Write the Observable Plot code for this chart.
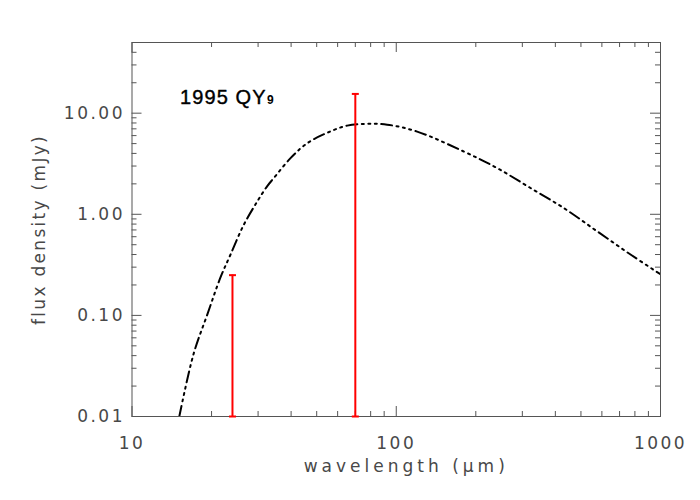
<!DOCTYPE html>
<html><head><meta charset="utf-8">
<script src="https://cdn.jsdelivr.net/npm/d3@7"></script>
<script src="https://cdn.jsdelivr.net/npm/@observablehq/plot@0.6"></script>
<style>body{margin:0;background:#fff}</style>
</head><body><div id="chart"></div>
<script>
// model curve (wavelength in µm, flux density in mJy)
const wavelength = [15.1, 17.1, 19.3, 21.6, 23.6, 26.5, 29.8, 32.5, 34.4, 39.8, 46.0, 54.8, 65.2, 77.6, 92.4, 120, 180, 241, 322, 431, 575, 770, 1000];
const flux       = [0.01, 0.0415, 0.103, 0.236, 0.40, 0.79, 1.34, 1.9, 2.28, 3.59, 5.04, 6.4, 7.53, 7.85, 7.7, 6.57, 4.18, 2.86, 1.82, 1.15, 0.68, 0.40, 0.255];
// upper limits (error bars)
const limWave = [24, 70];
const limLow  = [0.01, 0.01];
const limHigh = [0.25, 15.5];
// ticks
const xMajor = [10, 100, 1000];
const xMinor = [20,30,40,50,60,70,80,90,200,300,400,500,600,700,800,900];
const yMajor = [0.01, 0.1, 1, 10];
const yMinor = [0.02,0.03,0.04,0.05,0.06,0.07,0.08,0.09,0.2,0.3,0.4,0.5,0.6,0.7,0.8,0.9,2,3,4,5,6,7,8,9,20,30,40];
const objectName = "1995 QY";
const objectSub = "9";
const xLabel = "wavelength (μm)";
const yLabel = "flux density (mJy)";

const curve = wavelength.map((w, i) => ({w, f: flux[i]}));
const limits = limWave.map((w, i) => ({w, lo: limLow[i], hi: limHigh[i]}));

const W = 700, H = 500, mL = 131.5, mR = 40, mT = 42, mB = 84;
const iw = W - mL - mR, ih = H - mT - mB;
const axisColor = "#555";
const capSymbol = {draw(ctx) { ctx.moveTo(-3.5, 0); ctx.lineTo(3.5, 0); }};

const plot = Plot.plot({
  width: W, height: H,
  marginLeft: mL, marginRight: mR, marginTop: mT, marginBottom: mB,
  style: {fontFamily: "DejaVu Sans", fontSize: "17px", color: "#484848", background: "#fff", letterSpacing: "2.5px"},
  x: {type: "log", domain: [10, 1000], ticks: xMajor, tickFormat: d => String(d), tickSize: 0, tickPadding: 20, label: null},
  y: {type: "log", domain: [0.01, 50], ticks: yMajor, tickFormat: d3.format(".2f"), tickSize: 0, tickPadding: 7,
      label: yLabel, labelAnchor: "center", labelArrow: "none", labelOffset: 99},
  marks: [
    Plot.frame({stroke: axisColor, strokeWidth: 1}),
    // inward ticks, bottom & top
    Plot.tickX(xMajor, {x: d => d, insetTop: ih - 10, stroke: axisColor}),
    Plot.tickX(xMinor, {x: d => d, insetTop: ih - 5, stroke: axisColor}),
    Plot.tickX(xMajor, {x: d => d, insetBottom: ih - 10, stroke: axisColor}),
    Plot.tickX(xMinor, {x: d => d, insetBottom: ih - 5, stroke: axisColor}),
    // inward ticks, left & right
    Plot.tickY(yMajor, {y: d => d, insetRight: iw - 10, stroke: axisColor}),
    Plot.tickY(yMinor, {y: d => d, insetRight: iw - 5, stroke: axisColor}),
    Plot.tickY(yMajor, {y: d => d, insetLeft: iw - 10, stroke: axisColor}),
    Plot.tickY(yMinor, {y: d => d, insetLeft: iw - 5, stroke: axisColor}),
    // model curve
    Plot.line(curve, {x: "w", y: "f", curve: "catmull-rom", stroke: "black", strokeWidth: 2,
      strokeDasharray: "11,4.5,2,4.5,2,4.5,2,4.5", clip: true}),
    // upper limits
    Plot.ruleX(limits, {x: "w", y1: "lo", y2: "hi", stroke: "red", strokeWidth: 2}),
    Plot.dot(limits, {x: "w", y: "hi", symbol: capSymbol, r: 4, stroke: "red", strokeWidth: 2, fill: "none"}),
    Plot.dot(limits, {x: "w", y: "lo", symbol: capSymbol, r: 4, stroke: "red", strokeWidth: 2, fill: "none"}),
    // x axis title
    Plot.text([xLabel], {frameAnchor: "bottom", dx: 10, dy: 55, text: d => d, textAnchor: "middle",
      fill: "#484848", fontSize: 17}),
    // object name
    Plot.text([objectName], {frameAnchor: "top-left", dx: 48, dy: 47, text: d => d, textAnchor: "start",
      fontFamily: "Liberation Sans", fontSize: 20, fill: "black", stroke: "black", strokeWidth: 0.4}),
    Plot.text([objectSub], {frameAnchor: "top-left", dx: 135, dy: 53, text: d => d, textAnchor: "start",
      fontFamily: "Liberation Sans", fontSize: 12, fontWeight: "bold", fill: "black"})
  ]
});
// per-text letter spacing
plot.querySelectorAll("text").forEach(t => {
  const s = t.textContent;
  if (s === objectName) t.style.letterSpacing = "1.1px";
  else if (s === objectSub) t.style.letterSpacing = "0px";
  else if (s === xLabel) t.style.letterSpacing = "4px";
  else if (s === yLabel) t.style.letterSpacing = "2.3px";
});
document.getElementById("chart").appendChild(plot);
</script>
</body></html>
